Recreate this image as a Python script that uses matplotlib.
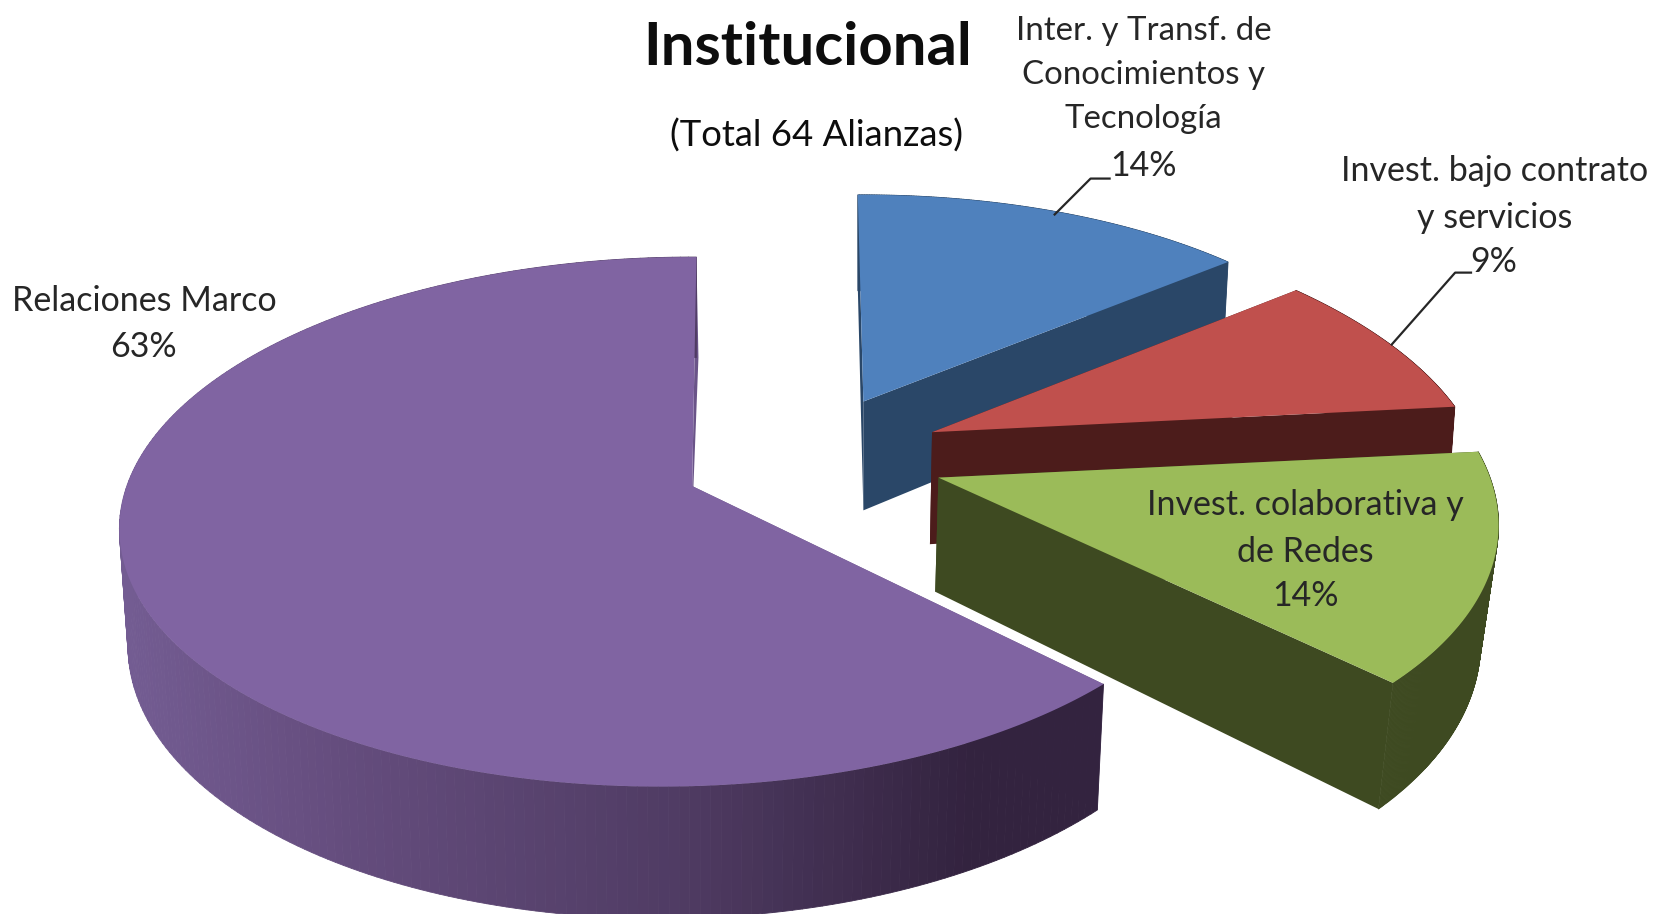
import numpy as np
import matplotlib.pyplot as plt
from matplotlib.collections import PolyCollection
from matplotlib.colors import to_rgb

plt.rcParams["font.family"] = ["Lato", "DejaVu Sans"]

labels = ["Inter. y Transf. de\nConocimientos y\nTecnología",
          "Invest. bajo contrato\ny servicios",
          "Invest. colaborativa y\nde Redes",
          "Relaciones Marco"]
values = [14, 9, 14, 63]

# colores: cara superior / lateral
top_colors = ["#4f81bd", "#c0504d", "#9bbb59", "#8064a2"]
side_colors = ["#2a4768", "#4c1c1b", "#3e4a21", "#6a5488"]

# vértice, radios y giro de cada porción (en pixeles de la imagen reducida)
apex = [(817, 380), (882, 409), (888, 452), (655, 460)]
radii = [(490, 222), (480, 236), (500, 250), (520, 246)]
skew = [-4, -35, -22, 15]
tilt = [0, 11, 0, 0]
rot = [-0.7, -1.5, 1.5, 0.5]
depth = [103, 106, 108, 108]
shrink = [0.985, 0.985, 0.968, 0.985]
bottom_dx = [0, -2, -3, -3]
wall_dx = [0, 0, 0, 2]
persp = 0.135


def project(i, theta):
    # ángulo medido desde arriba en sentido horario
    t = np.radians(theta + rot[i])
    u, v = np.sin(t), np.cos(t)
    f = 1 / (1 + persp * v)
    x = apex[i][0] + radii[i][0] * u * f + skew[i] * (v - 1)
    y = apex[i][1] - radii[i][1] * v * f + tilt[i] * u
    return x, y, f


def purple_shade(x):
    stops_x = [120, 320, 640, 920, 1040]
    stops_c = [to_rgb(c) for c in ["#735c92", "#654d7e", "#503c64", "#33233f", "#33233f"]]
    return tuple(np.interp(x, stops_x, [c[k] for c in stops_c]) for k in range(3))


fig = plt.figure(figsize=(16.57, 9.14), dpi=100)
ax = fig.add_axes([0, 0, 1, 1])
ax.set_xlim(0, 1568)
ax.set_ylim(865, 0)
ax.axis("off")

edges = np.cumsum([0] + values) * 3.6

for i in [3, 0, 1, 2]:
    th = np.linspace(edges[i], edges[i + 1], 240)
    xt, yt, f = project(i, th)
    ax0, ay0 = apex[i]
    xb = ax0 + (xt - ax0) * shrink[i]
    yb = yt + depth[i] * f
    bx0, by0 = ax0 + bottom_dx[i], ay0 + depth[i]

    # paredes radiales
    ax.fill([ax0, xt[0], xb[0], bx0], [ay0, yt[0], yb[0], by0], color=side_colors[i], lw=0)
    ax.fill([ax0, xt[-1], xb[-1] + wall_dx[i], bx0], [ay0, yt[-1], yb[-1], by0], color=side_colors[i], lw=0)

    # borde exterior, por tramos para el degradado
    quads = [[(xt[k], yt[k]), (xt[k + 1], yt[k + 1]), (xb[k + 1], yb[k + 1]), (xb[k], yb[k])]
             for k in range(len(th) - 1)]
    if i == 3:
        cols = [purple_shade(q[0][0]) for q in quads]
    else:
        cols = [side_colors[i]] * len(quads)
    ax.add_collection(PolyCollection(quads, facecolors=cols, edgecolors=cols, linewidths=0.6))

    # cara superior
    ax.fill(np.r_[ax0, xt], np.r_[ay0, yt], color=top_colors[i], lw=0)

txt = "#262626"
fs = 24.5
ls = 1.57
ax.text(764, 45, "Institucional", fontsize=43, fontweight="bold", color="#0d0d0d", ha="center", va="center")
ax.text(773, 128, "(Total 64 Alianzas)", fontsize=26.3, color="#0d0d0d", ha="center", va="center")

ax.text(1082, 71, labels[0], fontsize=fs * 0.97, color=txt, ha="center", va="center", linespacing=ls)
ax.text(1082, 157, f"{values[0]}%", fontsize=fs, color=txt, ha="center", va="center")
ax.text(1414, 184, labels[1], fontsize=fs, color=txt, ha="center", va="center", linespacing=ls)
ax.text(1413, 248, f"{values[1]}%", fontsize=fs, color=txt, ha="center", va="center")
ax.text(1235, 500, labels[2], fontsize=fs, color=txt, ha="center", va="center", linespacing=ls)
ax.text(1235, 564, f"{values[2]}%", fontsize=fs, color=txt, ha="center", va="center")
ax.text(137, 285, labels[3], fontsize=fs, color=txt, ha="center", va="center")
ax.text(136, 328, f"{values[3]}%", fontsize=fs, color=txt, ha="center", va="center")

# líneas guía
ax.plot([998, 1032, 1050], [203, 169, 169], color="#262626", lw=1.6)
ax.plot([1317, 1377, 1392], [326, 258, 258], color="#262626", lw=1.6)

fig.savefig("out.png", dpi=100, facecolor="white")
